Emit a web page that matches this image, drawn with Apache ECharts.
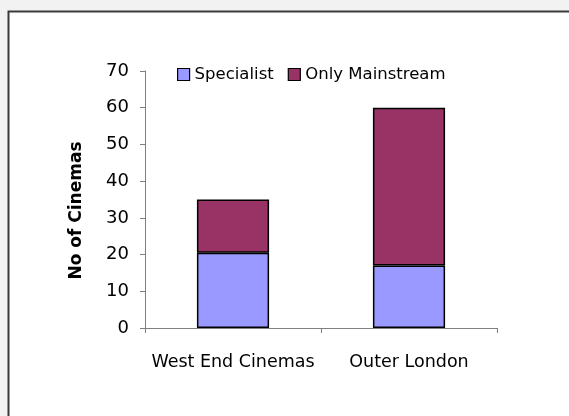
<!DOCTYPE html>
<html>
<head>
<meta charset="utf-8">
<script src="https://cdn.jsdelivr.net/npm/echarts@6/dist/echarts.min.js"></script>
<style>
  html, body { margin: 0; padding: 0; background: #f2f2f2; }
  #chart { width: 569px; height: 416px; }
</style>
</head>
<body>
<div id="chart"></div>
<script>
// Cinema counts by area, split into specialist and mainstream-only venues
const categories = ['West End Cinemas', 'Outer London'];
const specialist = [20.5, 17];
const onlyMainstream = [14.5, 43];
const yTicks = { min: 0, max: 70, interval: 10 };

const FONT = 'DejaVu Sans';
const chart = echarts.init(document.getElementById('chart'));

chart.setOption({
  backgroundColor: '#f2f2f2',
  animation: false,
  graphic: [{
    type: 'rect',
    z: -10,
    shape: { x: 8.5, y: 11.5, width: 600, height: 450 },
    style: { fill: '#ffffff', stroke: '#3a3a3a', lineWidth: 2 }
  }],
  legend: {
    top: 61,
    left: 172,
    itemWidth: 12,
    itemHeight: 12,
    itemGap: 14,
    icon: 'rect',
    textStyle: { fontFamily: FONT, fontSize: 16.5, color: '#000' },
    data: [
      { name: 'Specialist', itemStyle: { borderColor: '#000', borderWidth: 1.2 } },
      { name: 'Only Mainstream', itemStyle: { borderColor: '#000', borderWidth: 1.2 } }
    ]
  },
  grid: { left: 145, right: 72, top: 71, bottom: 88 },
  xAxis: {
    type: 'category',
    data: categories,
    axisLine: { lineStyle: { color: '#808080', width: 1 } },
    axisTick: { show: true, length: 5, lineStyle: { color: '#808080' } },
    axisLabel: { interval: 0, fontFamily: FONT, fontSize: 17.5, color: '#000', margin: 25 }
  },
  yAxis: {
    type: 'value',
    min: yTicks.min,
    max: yTicks.max,
    interval: yTicks.interval,
    name: 'No of Cinemas',
    nameLocation: 'middle',
    nameGap: 60,
    nameTextStyle: {
      fontFamily: FONT, fontSize: 17, fontWeight: 'bold', color: '#000',
      padding: [0, 22, 0, 0]
    },
    splitLine: { show: false },
    axisLine: { show: true, lineStyle: { color: '#808080', width: 1 } },
    axisTick: { show: true, length: 5, lineStyle: { color: '#808080' } },
    axisLabel: { fontFamily: FONT, fontSize: 18, color: '#000', margin: 16 }
  },
  series: [
    {
      name: 'Specialist',
      type: 'bar',
      stack: 'total',
      data: specialist,
      barWidth: '41%',
      itemStyle: { color: '#9999ff', borderColor: '#000', borderWidth: 1.5 }
    },
    {
      name: 'Only Mainstream',
      type: 'bar',
      stack: 'total',
      data: onlyMainstream,
      barWidth: '41%',
      itemStyle: { color: '#993366', borderColor: '#000', borderWidth: 1.5 }
    }
  ]
});
</script>
</body>
</html>
